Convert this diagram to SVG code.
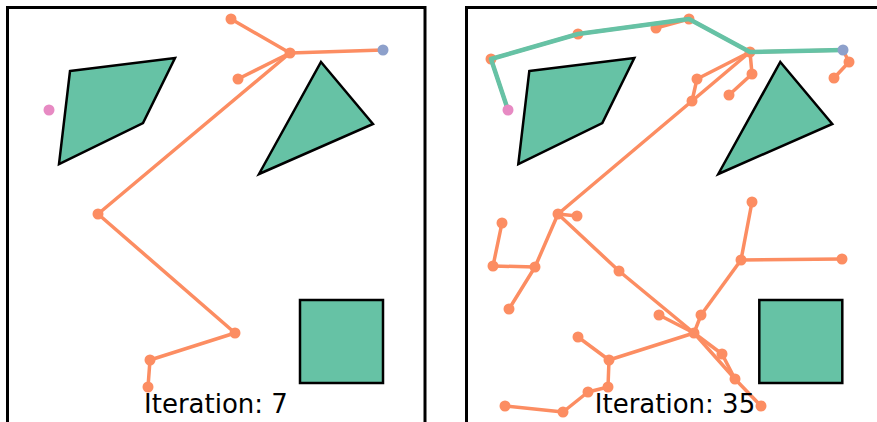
<svg xmlns="http://www.w3.org/2000/svg" width="877" height="422" viewBox="0 0 877 422">
<style>
.frame{fill:none;stroke:#000;stroke-width:3}
.obs{fill:#66c2a5;stroke:#000;stroke-width:2.5;stroke-linejoin:miter}
.e{stroke:#fc8d62;stroke-width:3.5;fill:none;stroke-linecap:round}
.path{stroke:#66c2a5;stroke-width:4.5;fill:none;stroke-linejoin:round;stroke-linecap:round}
.n{fill:#fc8d62}
.start{fill:#8da0cb}
.goal{fill:#e78ac3}
.lbl{font-family:"DejaVu Sans","Liberation Sans",sans-serif;font-size:26px;fill:#000;text-anchor:middle}
</style>
<defs>
<g id="obstacles">
<polygon class="obs" points="70,71 175,58 143,123 59,164"/>
<polygon class="obs" points="321,62 373,124 259,174"/>
<rect class="obs" x="300" y="300" width="83" height="83"/>
</g>
</defs>
<rect x="0" y="0" width="877" height="422" fill="#fff"/>

<!-- Left panel -->
<g id="panel-left">
<rect class="frame" x="7.5" y="7.5" width="417.5" height="430"/>
<use href="#obstacles"/>
<g id="edges-left">
<line class="e" x1="290" y1="53" x2="231" y2="19"/>
<line class="e" x1="290" y1="53" x2="238" y2="79"/>
<line class="e" x1="290" y1="53" x2="383" y2="50"/>
<line class="e" x1="290" y1="53" x2="98" y2="214"/>
<line class="e" x1="98" y1="214" x2="235" y2="333"/>
<line class="e" x1="235" y1="333" x2="150" y2="360"/>
<line class="e" x1="150" y1="360" x2="148" y2="387"/>
</g>
<g id="nodes-left">
<circle class="n" cx="290" cy="53" r="5.5"/>
<circle class="n" cx="231" cy="19" r="5.5"/>
<circle class="n" cx="238" cy="79" r="5.5"/>
<circle class="n" cx="98" cy="214" r="5.5"/>
<circle class="n" cx="235" cy="333" r="5.5"/>
<circle class="n" cx="150" cy="360" r="5.5"/>
<circle class="n" cx="148" cy="387" r="5.5"/>
<circle id="start-left" class="start" cx="383" cy="50" r="5.5"/>
<circle id="goal-left" class="goal" cx="49" cy="110" r="5.5"/>
</g>
<text class="lbl" x="216" y="413">Iteration: 7</text>
</g>

<!-- Right panel -->
<g id="panel-right">
<rect class="frame" x="466.5" y="7.5" width="430" height="430"/>
<use href="#obstacles" transform="translate(459.3,0)"/>
<g id="edges-right">
<line class="e" x1="843" y1="50" x2="750" y2="52"/>
<line class="e" x1="750" y1="52" x2="689" y2="19"/>
<line class="e" x1="689" y1="19" x2="578" y2="34"/>
<line class="e" x1="578" y1="34" x2="491" y2="59"/>
<line class="e" x1="491" y1="59" x2="508" y2="110"/>
<line class="e" x1="689" y1="19" x2="656" y2="28"/>
<line class="e" x1="843" y1="50" x2="849" y2="62"/>
<line class="e" x1="849" y1="62" x2="834" y2="78"/>
<line class="e" x1="750" y1="52" x2="697" y2="79"/>
<line class="e" x1="697" y1="79" x2="692" y2="101"/>
<line class="e" x1="750" y1="52" x2="692" y2="101"/>
<line class="e" x1="750" y1="52" x2="752" y2="74"/>
<line class="e" x1="752" y1="74" x2="729" y2="95"/>
<line class="e" x1="692" y1="101" x2="558" y2="214"/>
<line class="e" x1="558" y1="214" x2="577" y2="216"/>
<line class="e" x1="558" y1="214" x2="535" y2="267"/>
<line class="e" x1="535" y1="267" x2="509" y2="309"/>
<line class="e" x1="535" y1="267" x2="493" y2="266"/>
<line class="e" x1="493" y1="266" x2="502" y2="223"/>
<line class="e" x1="558" y1="214" x2="619" y2="271"/>
<line class="e" x1="619" y1="271" x2="694" y2="333"/>
<line class="e" x1="694" y1="333" x2="659" y2="315"/>
<line class="e" x1="694" y1="333" x2="701" y2="315"/>
<line class="e" x1="701" y1="315" x2="741" y2="260"/>
<line class="e" x1="741" y1="260" x2="752" y2="202"/>
<line class="e" x1="741" y1="260" x2="842" y2="259"/>
<line class="e" x1="694" y1="333" x2="722" y2="354"/>
<line class="e" x1="722" y1="354" x2="735" y2="379"/>
<line class="e" x1="694" y1="333" x2="735" y2="379"/>
<line class="e" x1="735" y1="379" x2="761" y2="406"/>
<line class="e" x1="694" y1="333" x2="609" y2="360"/>
<line class="e" x1="609" y1="360" x2="578" y2="337"/>
<line class="e" x1="609" y1="360" x2="608" y2="387"/>
<line class="e" x1="608" y1="387" x2="588" y2="392"/>
<line class="e" x1="588" y1="392" x2="563" y2="412"/>
<line class="e" x1="563" y1="412" x2="505" y2="406"/>
</g>
<g id="nodes-right">
<circle class="n" cx="750" cy="52" r="5.5"/>
<circle class="n" cx="689" cy="19" r="5.5"/>
<circle class="n" cx="578" cy="34" r="5.5"/>
<circle class="n" cx="491" cy="59" r="5.5"/>
<circle class="n" cx="656" cy="28" r="5.5"/>
<circle class="n" cx="849" cy="62" r="5.5"/>
<circle class="n" cx="834" cy="78" r="5.5"/>
<circle class="n" cx="697" cy="79" r="5.5"/>
<circle class="n" cx="692" cy="101" r="5.5"/>
<circle class="n" cx="752" cy="74" r="5.5"/>
<circle class="n" cx="729" cy="95" r="5.5"/>
<circle class="n" cx="558" cy="214" r="5.5"/>
<circle class="n" cx="577" cy="216" r="5.5"/>
<circle class="n" cx="535" cy="267" r="5.5"/>
<circle class="n" cx="509" cy="309" r="5.5"/>
<circle class="n" cx="493" cy="266" r="5.5"/>
<circle class="n" cx="502" cy="223" r="5.5"/>
<circle class="n" cx="619" cy="271" r="5.5"/>
<circle class="n" cx="694" cy="333" r="5.5"/>
<circle class="n" cx="659" cy="315" r="5.5"/>
<circle class="n" cx="701" cy="315" r="5.5"/>
<circle class="n" cx="741" cy="260" r="5.5"/>
<circle class="n" cx="752" cy="202" r="5.5"/>
<circle class="n" cx="842" cy="259" r="5.5"/>
<circle class="n" cx="722" cy="354" r="5.5"/>
<circle class="n" cx="735" cy="379" r="5.5"/>
<circle class="n" cx="761" cy="406" r="5.5"/>
<circle class="n" cx="609" cy="360" r="5.5"/>
<circle class="n" cx="578" cy="337" r="5.5"/>
<circle class="n" cx="608" cy="387" r="5.5"/>
<circle class="n" cx="588" cy="392" r="5.5"/>
<circle class="n" cx="563" cy="412" r="5.5"/>
<circle class="n" cx="505" cy="406" r="5.5"/>
</g>
<g id="solution-path">
<polyline class="path" points="508,110 491,59 578,34 689,19 750,52 843,50"/>
</g>
<circle id="start-right" class="start" cx="843" cy="50" r="5.5"/>
<circle id="goal-right" class="goal" cx="508" cy="110" r="5.5"/>
<text class="lbl" x="675" y="413">Iteration: 35</text>
</g>
</svg>
